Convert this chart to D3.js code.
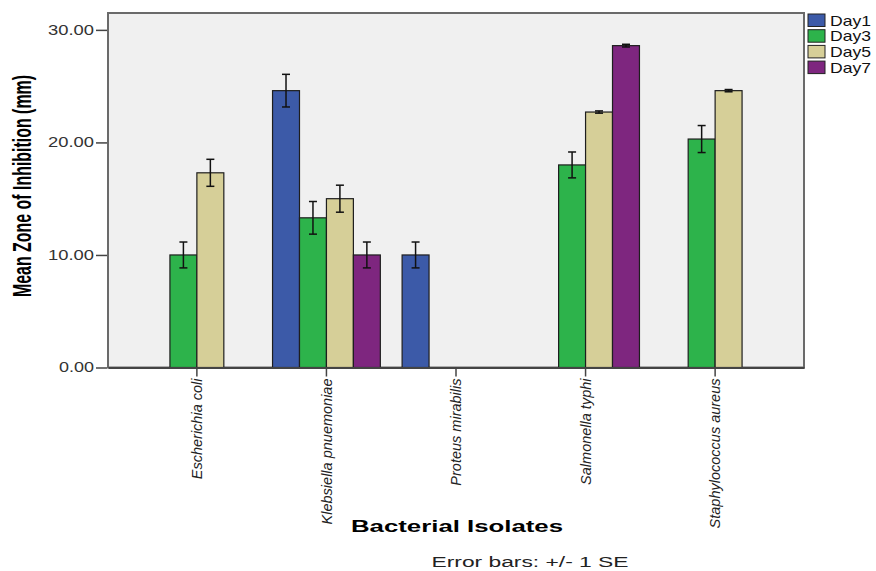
<!DOCTYPE html>
<html>
<head>
<meta charset="utf-8">
<script src="https://cdn.jsdelivr.net/npm/d3@7"></script>
<style>
  html, body { margin: 0; padding: 0; background: #ffffff; }
  svg { display: block; font-family: "Liberation Sans", Arial, sans-serif; }
</style>
</head>
<body>
<svg id="chart" width="876" height="571"></svg>
<script>
// ---- Data ----
const categories = ["Escherichia coli", "Klebsiella pnuemoniae", "Proteus mirabilis", "Salmonella typhi", "Staphylococcus aureus"];
const days = ["Day1", "Day3", "Day5", "Day7"];
const day1 = [null, 24.6, 10.0, null, null];
const day3 = [10.0, 13.3, null, 18.0, 20.3];
const day5 = [17.3, 15.0, null, 22.7, 24.6];
const day7 = [null, 10.0, null, 28.6, null];
const se1 = [null, 1.45, 1.15, null, null];
const se3 = [1.15, 1.45, null, 1.15, 1.2];
const se5 = [1.2, 1.2, null, 0.1, 0.1];
const se7 = [null, 1.15, null, 0.12, null];
const yTicks = [0, 10, 20, 30];
const colors = ["#3c5aa8", "#2db34b", "#d6cf98", "#7e267f"];

const seriesVals = [day1, day3, day5, day7];
const seriesSE = [se1, se3, se5, se7];

const svg = d3.select("#chart");
const L = 108, R = 804, T = 13, B = 367.5;

const x0 = d3.scaleBand().domain(categories).range([L, R]).paddingInner(0.168).paddingOuter(0.27);
const x1 = d3.scaleBand().domain(days).range([0, x0.bandwidth()]).padding(0);
const y = d3.scaleLinear().domain([0, 31.5]).range([B, T]);
const color = d3.scaleOrdinal().domain(days).range(colors);

// plot background / frame
svg.append("rect").attr("x", L).attr("y", T).attr("width", R - L).attr("height", B - T)
  .attr("fill", "#f0f0f0").attr("stroke", "#6a6a6a").attr("stroke-width", 2);

// flatten data
const recs = [];
categories.forEach((c, i) => {
  days.forEach((d, j) => {
    const v = seriesVals[j][i];
    if (v !== null) recs.push({cat: c, day: d, v: v, se: seriesSE[j][i]});
  });
});

// bars
svg.append("g").selectAll("rect").data(recs).join("rect")
  .attr("x", d => x0(d.cat) + x1(d.day))
  .attr("y", d => y(d.v))
  .attr("width", x1.bandwidth())
  .attr("height", d => y(0) - y(d.v))
  .attr("fill", d => color(d.day))
  .attr("stroke", "#1e1e1e").attr("stroke-width", 1.2);

// error bars
const eg = svg.append("g").attr("stroke", "#111").attr("stroke-width", 1.5);
recs.forEach(d => {
  const cx = x0(d.cat) + x1(d.day) + x1.bandwidth() / 2;
  const y1 = y(d.v + d.se), y2 = y(d.v - d.se);
  eg.append("line").attr("x1", cx).attr("x2", cx).attr("y1", y1).attr("y2", y2);
  eg.append("line").attr("x1", cx - 4).attr("x2", cx + 4).attr("y1", y1).attr("y2", y1);
  eg.append("line").attr("x1", cx - 4).attr("x2", cx + 4).attr("y1", y2).attr("y2", y2);
});

// y axis
const yAxis = d3.axisLeft(y).tickValues(yTicks).tickFormat(d3.format(".2f")).tickSize(11).tickPadding(2);
const ya = svg.append("g").attr("transform", `translate(${L - 1},0)`).call(yAxis);
ya.select(".domain").remove();
ya.selectAll(".tick line").attr("stroke", "#444").attr("stroke-width", 1.5);
ya.selectAll(".tick text")
  .attr("font-size", 14).attr("fill", "#333")
  .attr("font-family", "'Liberation Sans', Arial, sans-serif")
  .attr("textLength", d => d >= 10 ? 46 : 35)
  .attr("lengthAdjust", "spacingAndGlyphs");

// x axis
const xAxis = d3.axisBottom(x0).tickSize(9).tickSizeOuter(0).tickPadding(3);
const xa = svg.append("g").attr("transform", `translate(0,${B})`).call(xAxis);
xa.select(".domain").attr("stroke", "#444").attr("stroke-width", 2);
xa.selectAll(".tick line").attr("stroke", "#444").attr("stroke-width", 1.5);
xa.selectAll(".tick text")
  .attr("font-size", 14.5).attr("font-style", "italic").attr("fill", "#222")
  .attr("font-family", "'Liberation Sans', Arial, sans-serif")
  .attr("text-anchor", "end")
  .attr("transform", "rotate(-90)")
  .attr("x", -11).attr("y", 0).attr("dy", "0.35em");

// axis titles
svg.append("text")
  .attr("transform", `translate(31,${186}) rotate(-90)`)
  .attr("text-anchor", "middle")
  .attr("font-size", 25).attr("font-weight", "bold").attr("fill", "#000")
  .attr("textLength", 222).attr("lengthAdjust", "spacingAndGlyphs")
  .text("Mean Zone of Inhibition (mm)");

svg.append("text")
  .attr("x", 457).attr("y", 532)
  .attr("text-anchor", "middle")
  .attr("font-size", 16).attr("font-weight", "bold").attr("fill", "#000")
  .attr("textLength", 212).attr("lengthAdjust", "spacingAndGlyphs")
  .text("Bacterial Isolates");

svg.append("text")
  .attr("x", 530).attr("y", 567)
  .attr("text-anchor", "middle")
  .attr("font-size", 14).attr("fill", "#222")
  .attr("textLength", 197).attr("lengthAdjust", "spacingAndGlyphs")
  .text("Error bars: +/- 1 SE");

// legend
const lg = svg.append("g").attr("transform", "translate(808,14)");
days.forEach((d, i) => {
  const row = lg.append("g").attr("transform", `translate(0,${i * 15.7})`);
  row.append("rect").attr("x", 0).attr("y", 0).attr("width", 17).attr("height", 12.5)
    .attr("fill", color(d)).attr("stroke", "#222").attr("stroke-width", 1);
  row.append("text").attr("x", 22).attr("y", 6.5).attr("dy", "0.35em")
    .attr("font-size", 14.5).attr("fill", "#111")
    .attr("textLength", 41).attr("lengthAdjust", "spacingAndGlyphs")
    .text(d);
});
</script>
</body>
</html>
